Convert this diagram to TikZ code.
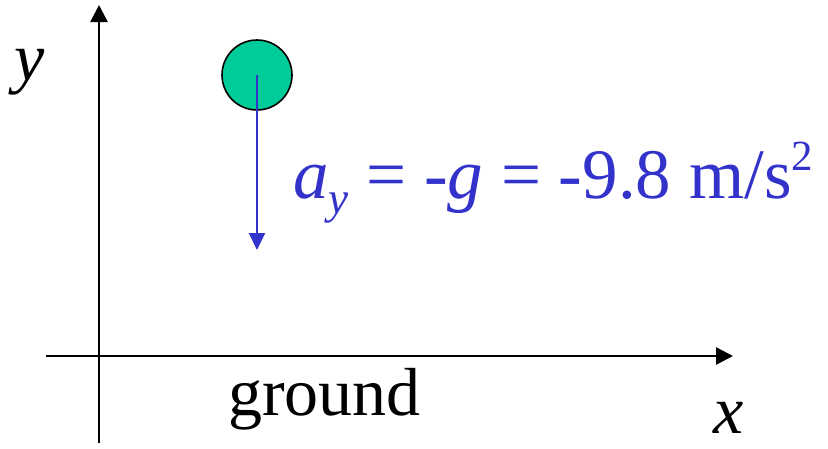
\documentclass[tikz,border=0pt]{standalone}
\usepackage{fontspec}
\setmainfont{Liberation Serif}
\usepackage{xcolor}
\usetikzlibrary{arrows.meta, positioning}
\definecolor{ballgreen}{RGB}{0,204,153}
\definecolor{accblue}{RGB}{51,51,204}

\begin{document}
\begin{tikzpicture}[
    x=1pt, y=-1pt,
    axis/.style={line width=2.6pt, -{Triangle[length=17pt, width=17pt]}},
    ball/.style={draw, circle, line width=1.6pt, fill=ballgreen, minimum size=70pt, inner sep=0pt},
    accel/.style={accblue, line width=2pt, -{Triangle[length=17pt, width=16pt]}},
    lbl/.style={inner sep=0pt, font=\fontsize{68}{80}\selectfont}
]
    \useasboundingbox (0,0) rectangle (828,448);

    \coordinate (ybot) at (99,443);
    \coordinate (ytop) at (99,5);
    \coordinate (xleft) at (46,356);
    \coordinate (xright) at (733,356);
    \draw [axis] (ybot) -- (ytop);
    \draw [axis] (xleft) -- (xright);

    \node (ylabel) [lbl] at (30,72) {\textit{y}};
    \node (xlabel) [lbl, anchor=base] at (729,433) {\textit{x}};
    \node (ground) [lbl, anchor=base west] at (228,415) {ground};

    \node (ball) [ball] at (257,75) {};
    \coordinate (acctip) at (257,250);
    \draw [accel] (ball.center) -- (acctip);

    \node (accel) [lbl, accblue, anchor=base west, font=\fontsize{71}{80}\selectfont] at (293,198)
        {\textit{a}\raisebox{-15pt}{\fontsize{45}{50}\selectfont\textit{y}} = -\textit{g} = -9.8 m/s\raisebox{28pt}{\fontsize{43}{50}\selectfont 2}};
\end{tikzpicture}
\end{document}
